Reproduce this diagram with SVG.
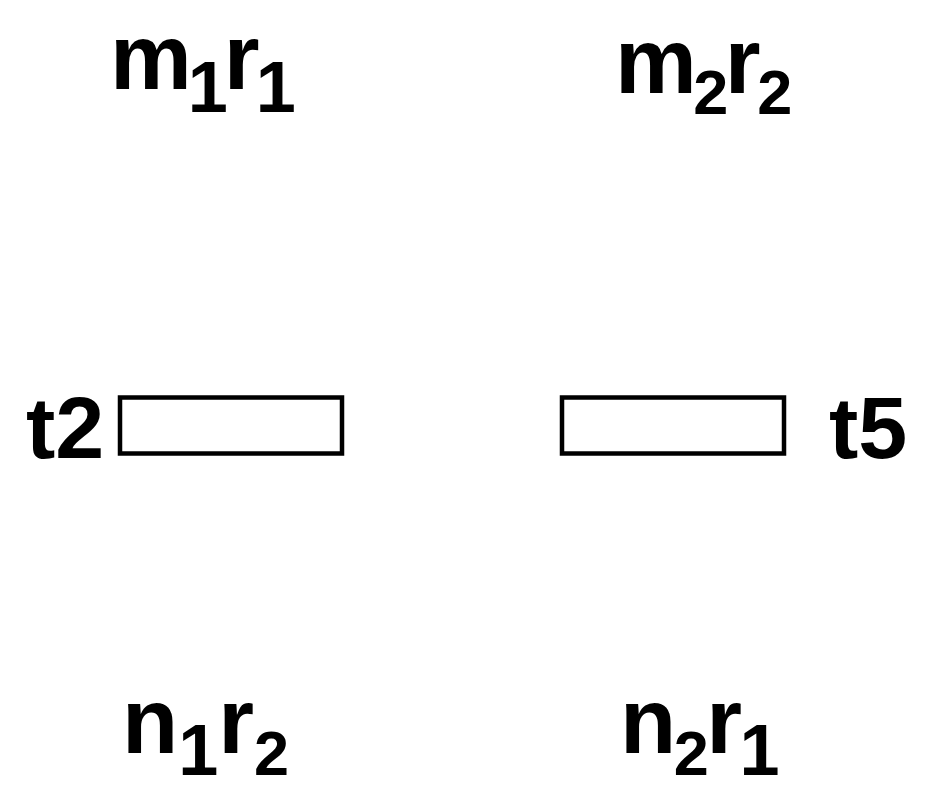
<svg xmlns="http://www.w3.org/2000/svg" width="935" height="806" viewBox="0 0 935 806">
<style>
.lbl{font-family:"Liberation Sans",Arial,sans-serif;font-weight:bold;font-size:92px;fill:#000}
.s1{font-size:72px}
.s2{font-size:63px}
.t{font-family:"Liberation Sans",Arial,sans-serif;font-weight:bold;font-size:88px;fill:#000}
.box{fill:#fff;stroke:#000;stroke-width:4.5}
</style>
<rect width="935" height="806" fill="#fff"/>
<g id="m1r1"><text class="lbl" x="110" y="89" letter-spacing="-4">m<tspan class="s1" dy="23">1</tspan><tspan dy="-23">r</tspan><tspan class="s1" dy="23">1</tspan></text></g>
<g id="m2r2"><text class="lbl" x="615" y="93" letter-spacing="-3.5">m<tspan class="s2" dy="21">2</tspan><tspan dy="-21">r</tspan><tspan class="s2" dy="21">2</tspan></text></g>
<g id="t2"><text class="t" x="26" y="458">t2</text><rect class="box" x="120" y="397.5" width="222" height="56"/></g>
<g id="t5"><rect class="box" x="562" y="397.5" width="222" height="56"/><text class="t" x="829" y="458">t5</text></g>
<g id="n1r2"><text class="lbl" x="122" y="753">n<tspan class="s1" dy="22">1</tspan><tspan dy="-22">r</tspan><tspan class="s2" dy="22">2</tspan></text></g>
<g id="n2r1"><text class="lbl" x="620" y="753" letter-spacing="-2.5">n<tspan class="s2" dy="22">2</tspan><tspan dy="-22">r</tspan><tspan class="s1" dy="22">1</tspan></text></g>
<g id="connectors"></g>
</svg>
